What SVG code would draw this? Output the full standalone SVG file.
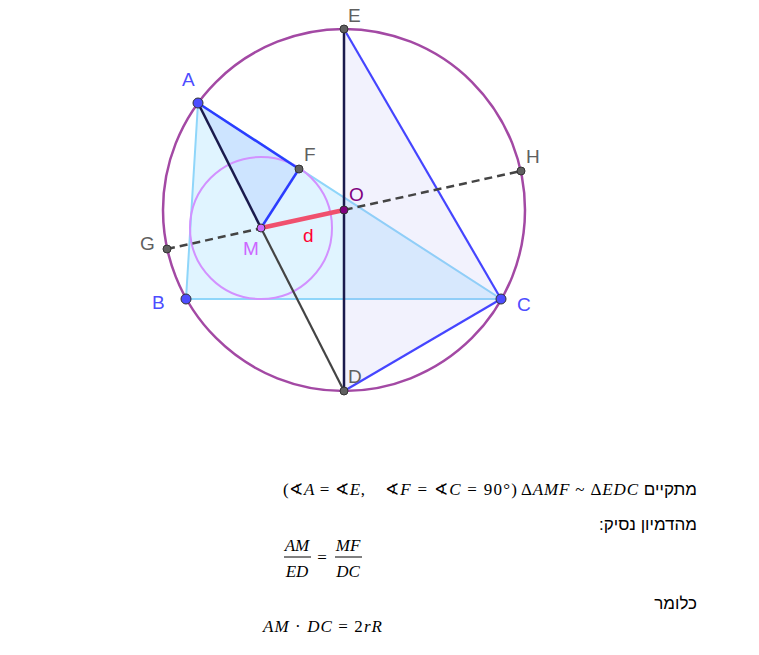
<svg xmlns="http://www.w3.org/2000/svg" width="759" height="655" viewBox="0 0 759 655">
<style>
.lbl{font-family:"Liberation Sans",Arial,sans-serif;font-size:19px}
.heb{font-family:"Liberation Sans","DejaVu Sans",sans-serif;font-size:17px;fill:#000}
.math{font-family:"Liberation Serif","DejaVu Serif",serif;font-size:17px;font-style:italic;fill:#000}
.up{font-style:normal}
.pt{stroke:#333;stroke-width:1}
</style>
<rect width="759" height="655" fill="#fff"/>
<g id="shapes">
<polygon points="198,103 186,299 501,299" fill="#99d9ff" fill-opacity="0.3" stroke="#8fd6fa" stroke-width="2"/>
<polygon points="344,29 344,391 501,299" fill="#9999ee" fill-opacity="0.13" stroke="none"/>
<polygon points="198,103 299,169 261,228" fill="#4d7fff" fill-opacity="0.13" stroke="none"/>
<circle cx="344" cy="210" r="181" fill="none" stroke="#a349a4" stroke-width="2.5"/>
<circle cx="261" cy="228" r="71" fill="none" stroke="#d291ff" stroke-width="2"/>
</g>
<g id="connectors" fill="none">
<line x1="344" y1="29" x2="501" y2="299" stroke="#4545ff" stroke-width="2.2"/>
<line x1="501" y1="299" x2="344" y2="391" stroke="#4545ff" stroke-width="2.2"/>
<line x1="198" y1="103" x2="299" y2="169" stroke="#2b3cff" stroke-width="2.5"/>
<line x1="299" y1="169" x2="261" y2="228" stroke="#2b3cff" stroke-width="2.5"/>
<line x1="344" y1="29" x2="344" y2="391" stroke="#1a1a4d" stroke-width="2.5"/>
<line x1="198" y1="103" x2="261" y2="228" stroke="#1a1a4d" stroke-width="2.5"/>
<line x1="261" y1="228" x2="344" y2="391" stroke="#444" stroke-width="2.2"/>
<line x1="167" y1="249" x2="521" y2="171" stroke="#444" stroke-width="2.5" stroke-dasharray="8,5"/>
<line x1="261" y1="228" x2="344" y2="210" stroke="#f0506e" stroke-width="4.5"/>
</g>
<g id="E"><circle class="pt" cx="344" cy="29" r="4" fill="#606060"/><text class="lbl" x="348" y="22" fill="#606060">E</text></g>
<g id="A"><circle class="pt" cx="198" cy="103" r="5" fill="#4d4dff"/><text class="lbl" x="182" y="86" fill="#4d4dff">A</text></g>
<g id="F"><circle class="pt" cx="299" cy="169" r="4" fill="#606060"/><text class="lbl" x="304" y="161" fill="#606060">F</text></g>
<g id="H"><circle class="pt" cx="521" cy="171" r="4" fill="#606060"/><text class="lbl" x="526" y="163" fill="#606060">H</text></g>
<g id="O"><circle class="pt" cx="344" cy="210" r="4" fill="#7f007f"/><text class="lbl" x="349" y="201" fill="#7f007f">O</text></g>
<g id="G"><circle class="pt" cx="167" cy="249" r="4" fill="#606060"/><text class="lbl" x="140" y="250" fill="#606060">G</text></g>
<g id="M"><circle class="pt" cx="261" cy="228" r="4" fill="#cc66ff"/><text class="lbl" x="243" y="255" fill="#cc66ff">M</text></g>
<g id="d"><text class="lbl" x="303" y="242" fill="#ff0033">d</text></g>
<g id="B"><circle class="pt" cx="186" cy="299" r="5" fill="#4d4dff"/><text class="lbl" x="152" y="309" fill="#4d4dff">B</text></g>
<g id="C"><circle class="pt" cx="501" cy="299" r="5" fill="#4d4dff"/><text class="lbl" x="517" y="311" fill="#4d4dff">C</text></g>
<g id="D"><circle class="pt" cx="344" cy="391" r="4" fill="#606060"/><text class="lbl" x="348" y="383" fill="#606060">D</text></g>
<g id="text">
<text class="heb" x="697" y="495" text-anchor="start" direction="rtl">מתקיים</text>
<text class="math" x="283" y="495" textLength="82" lengthAdjust="spacing"><tspan class="up">(∢</tspan>A <tspan class="up">= ∢</tspan>E<tspan class="up">,</tspan></text>
<text class="math" x="385" y="495" textLength="132" lengthAdjust="spacing"><tspan class="up">∢</tspan>F <tspan class="up">= ∢</tspan>C <tspan class="up">= 90°)</tspan></text>
<text class="math" x="521" y="495" textLength="117" lengthAdjust="spacing"><tspan class="up">Δ</tspan>AMF <tspan class="up">~ Δ</tspan>EDC</text>
<text class="heb" x="697" y="530" text-anchor="start" direction="rtl">מהדמיון נסיק:</text>
<text class="math" x="297" y="551" text-anchor="middle">AM</text>
<line x1="284" y1="557" x2="311" y2="557" stroke="#000" stroke-width="1"/>
<text class="math" x="297" y="577" text-anchor="middle">ED</text>
<text class="math up" x="322" y="563" text-anchor="middle">=</text>
<text class="math" x="348" y="551" text-anchor="middle">MF</text>
<line x1="335" y1="557" x2="362" y2="557" stroke="#000" stroke-width="1"/>
<text class="math" x="348" y="577" text-anchor="middle">DC</text>
<text class="heb" x="697" y="609" text-anchor="start" direction="rtl">כלומר</text>
<text class="math" x="263" y="632" textLength="119" lengthAdjust="spacing">AM <tspan class="up">·</tspan> DC <tspan class="up">=</tspan> <tspan class="up">2</tspan>rR</text>
</g>
</svg>
